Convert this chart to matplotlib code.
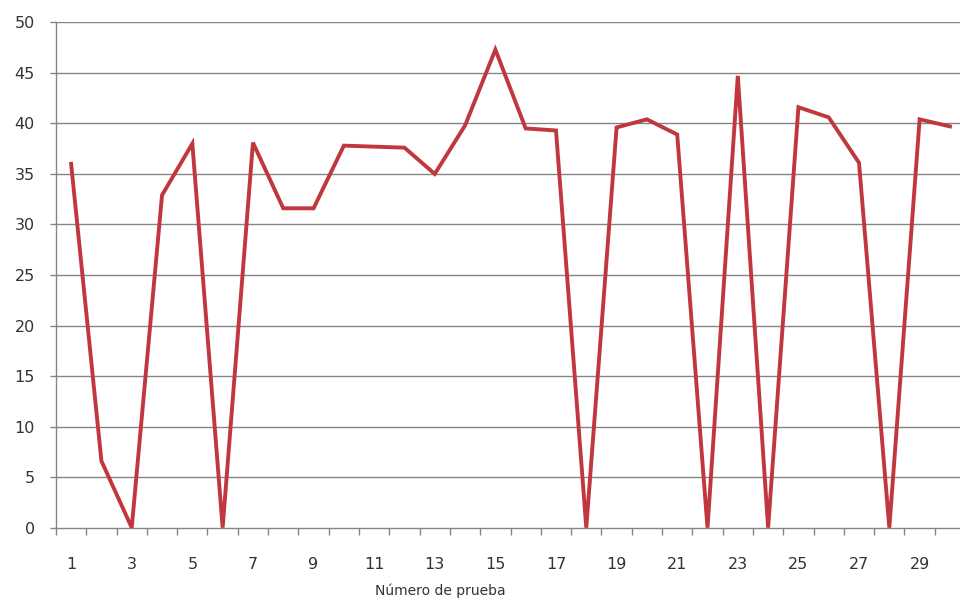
import matplotlib
matplotlib.use('Agg')
import matplotlib.pyplot as plt
from matplotlib.ticker import FixedLocator
import numpy as np

# Resultado por número de prueba
pruebas = list(range(1, 31))
valores = [36.0, 6.6, 0.0, 32.9, 38.0, 0.0, 38.1, 31.6, 31.6, 37.8,
           37.7, 37.6, 35.0, 39.8, 47.3, 39.5, 39.3, 0.0, 39.6, 40.4,
           38.9, 0.0, 44.7, 0.0, 41.6, 40.6, 36.1, 0.0, 40.4, 39.7]
etiquetas_x = [str(p) for p in pruebas if p % 2 == 1]
marcas_y = list(range(0, 51, 5))

fig = plt.figure(figsize=(9.6, 6), dpi=100)
ax = fig.add_axes([0.0583, 0.1205, 0.947, 0.8423])

grid_c = '#858585'
for y in marcas_y[1:]:
    ax.axhline(y, color=grid_c, linewidth=1.0, zorder=1)

ax.plot(pruebas, valores, color='#C0383E', linewidth=2.8,
        solid_joinstyle='miter', zorder=3)

ax.set_xlim(0.5, 30.5)
ax.set_ylim(0, 50)
ax.set_yticks(marcas_y)

# ejes de categoría: marcas entre categorías, etiquetas en impares
ax.xaxis.set_major_locator(FixedLocator([p for p in pruebas if p % 2 == 1]))
ax.set_xticklabels(etiquetas_x)
ax.xaxis.set_minor_locator(FixedLocator(np.arange(0.5, 31, 1)))
ax.tick_params(axis='x', which='major', length=0, pad=21,
               labelsize=11.5, labelcolor='#333333')
ax.tick_params(axis='x', which='minor', length=5, width=1, color=grid_c,
               direction='out')
ax.tick_params(axis='y', length=4.3, width=1, color=grid_c, pad=11,
               labelsize=11.5, labelcolor='#333333', direction='out')

for s in ['top', 'right']:
    ax.spines[s].set_visible(False)
for s in ['left', 'bottom']:
    ax.spines[s].set_color(grid_c)
    ax.spines[s].set_linewidth(1.0)

fig.text(440 / 960, 1 - 591 / 600, 'Número de prueba', ha='center',
         va='center', fontsize=10, color='#333333')

fig.savefig('out.png', dpi=100)
